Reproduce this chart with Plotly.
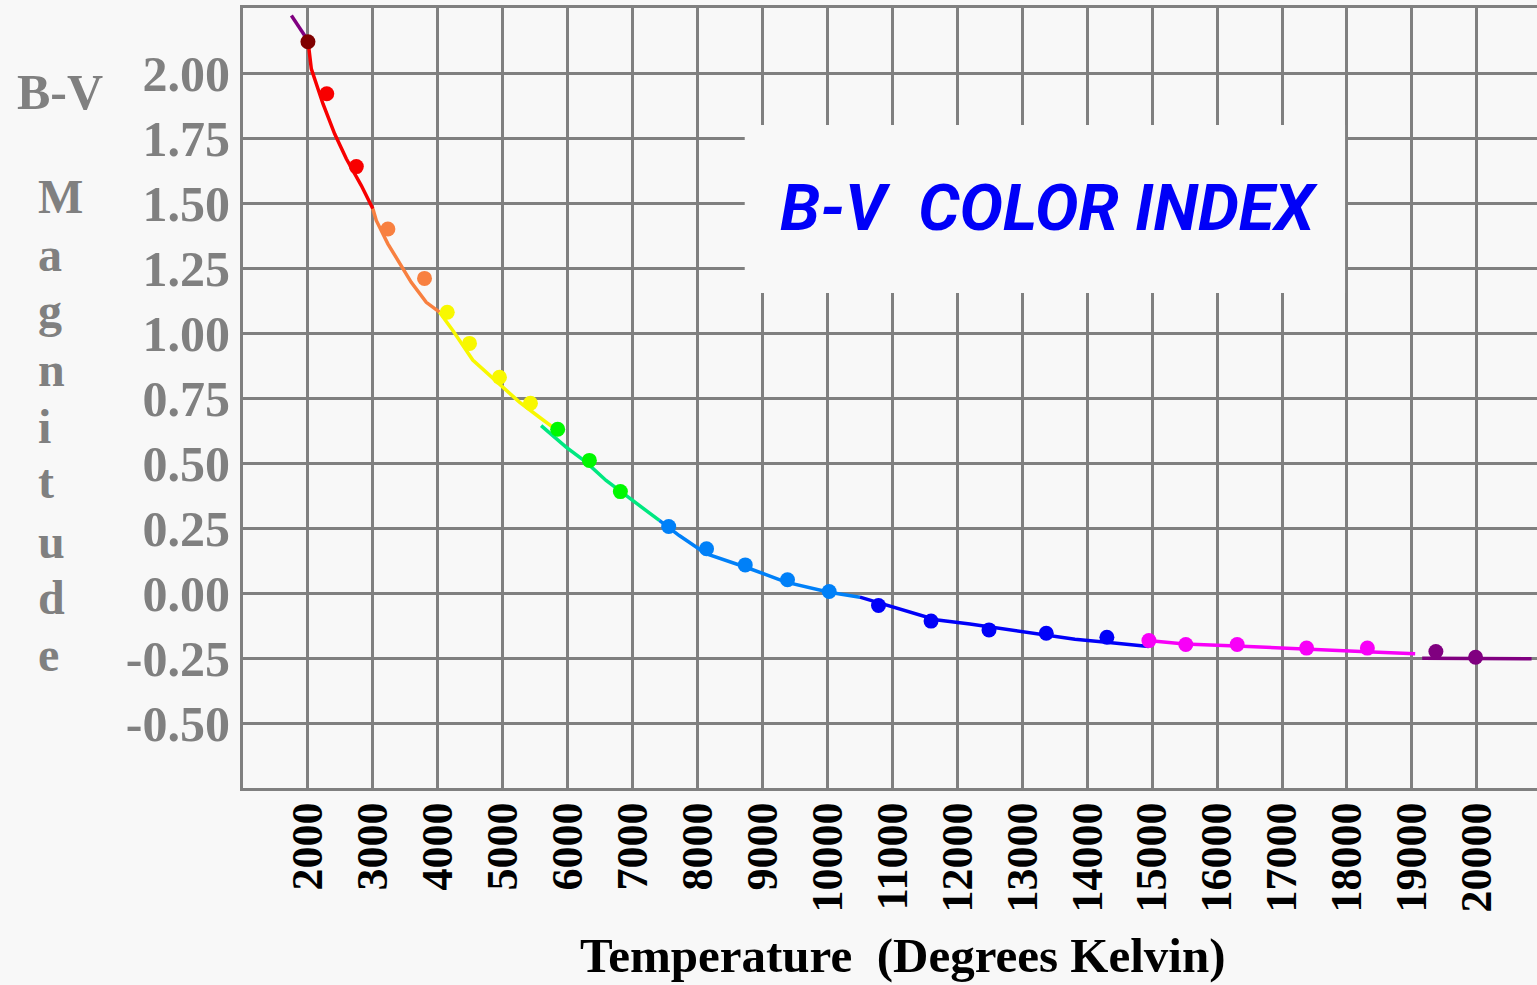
import plotly.graph_objects as go

# tick values / labels
temp_ticks = [2000, 3000, 4000, 5000, 6000, 7000, 8000, 9000, 10000, 11000,
              12000, 13000, 14000, 15000, 16000, 17000, 18000, 19000, 20000]
temp_labels = [str(t) for t in temp_ticks]
bv_ticks = [2.0, 1.75, 1.5, 1.25, 1.0, 0.75, 0.5, 0.25, 0.0, -0.25, -0.5]
bv_labels = ["2.00", "1.75", "1.50", "1.25", "1.00", "0.75", "0.50", "0.25",
             "0.00", "-0.25", "-0.50"]

# measured points (temperature K, B-V)
maroon_T = [2000]
maroon_bv = [2.12]
red_T = [2290, 2745]
red_bv = [1.92, 1.64]
orange_T = [3231, 3795]
orange_bv = [1.40, 1.21]
yellow_T = [4145, 4488, 4949, 5426]
yellow_bv = [1.08, 0.96, 0.83, 0.73]
green_T = [5846, 6334, 6811]
green_bv = [0.63, 0.51, 0.39]
ltblue_T = [7555, 8138, 8734, 9385, 10026]
ltblue_bv = [0.256, 0.170, 0.108, 0.051, 0.006]
blue_T = [10786, 11595, 12488, 13369, 14303]
blue_bv = [-0.048, -0.108, -0.142, -0.155, -0.170]
magenta_T = [14950, 15518, 16309, 17378, 18314]
magenta_bv = [-0.183, -0.198, -0.198, -0.212, -0.212]
purple_T = [19369, 19980]
purple_bv = [-0.225, -0.247]

ln_top_T = [1745, 2000]
ln_top_bv = [2.221, 2.125]
ln_red_T = [2000, 2052, 2231, 2411, 2591, 2822, 3000]
ln_red_bv = [2.125, 2.016, 1.882, 1.766, 1.670, 1.567, 1.478]
ln_orange_T = [3000, 3052, 3231, 3411, 3591, 3822, 4026]
ln_orange_bv = [1.478, 1.433, 1.343, 1.272, 1.195, 1.118, 1.080]
ln_yellow_T = [4026, 4231, 4538, 4795, 5052, 5257, 5565, 5769]
ln_yellow_bv = [1.080, 1.010, 0.896, 0.837, 0.779, 0.734, 0.676, 0.638]
ln_green_T = [5591, 5975, 6283, 6591, 7000, 7308, 7411]
ln_green_bv = [0.644, 0.561, 0.503, 0.433, 0.356, 0.298, 0.279]
ln_ltblue_T = [7411, 7718, 8129, 8745, 9360, 10026, 10500]
ln_ltblue_bv = [0.279, 0.221, 0.151, 0.099, 0.042, 0.003, -0.016]
ln_blue_T = [10500, 11032, 11666, 12194, 12965, 13811, 14374, 14949]
ln_blue_bv = [-0.016, -0.057, -0.103, -0.119, -0.147, -0.178, -0.191, -0.206]
ln_magenta_T = [14934, 15500, 16200, 17250, 18300, 19050]
ln_magenta_bv = [-0.183, -0.196, -0.203, -0.216, -0.226, -0.234]
ln_purple_T = [19158, 20842]
ln_purple_bv = [-0.251, -0.253]

BG = "#f8f8f8"
GRID = "#808080"
SERIF = "Liberation Serif, Times New Roman, serif"

W, H = 1537, 985
L, R, T, B = 243, 0, 8, 197


def px_x(px):
    return (px - L) / (W - L - R)


def px_y(py):
    return 1 - (py - T) / (H - T - B)


fig = go.Figure()

lines = [
    (ln_top_T, ln_top_bv, "#800080"),
    (ln_red_T, ln_red_bv, "#f80000"),
    (ln_orange_T, ln_orange_bv, "#f88040"),
    (ln_yellow_T, ln_yellow_bv, "#f8f800"),
    (ln_green_T, ln_green_bv, "#00e880"),
    (ln_ltblue_T, ln_ltblue_bv, "#0080f8"),
    (ln_blue_T, ln_blue_bv, "#0000f8"),
    (ln_magenta_T, ln_magenta_bv, "#f800f8"),
    (ln_purple_T, ln_purple_bv, "#800080"),
]
for xs, ys, c in lines:
    fig.add_trace(go.Scatter(x=xs, y=ys, mode="lines", line=dict(color=c, width=3.5),
                             hoverinfo="skip", showlegend=False))

points = [
    (maroon_T, maroon_bv, "#800000"),
    (red_T, red_bv, "#f80000"),
    (orange_T, orange_bv, "#f88040"),
    (yellow_T, yellow_bv, "#f8f800"),
    (green_T, green_bv, "#00f800"),
    (ltblue_T, ltblue_bv, "#0080f8"),
    (blue_T, blue_bv, "#0000f8"),
    (magenta_T, magenta_bv, "#f800f8"),
    (purple_T, purple_bv, "#800080"),
]
for xs, ys, c in points:
    fig.add_trace(go.Scatter(x=xs, y=ys, mode="markers",
                             marker=dict(color=c, size=15, symbol="circle", line=dict(width=0)),
                             showlegend=False))

# blank box behind the title (hides the grid there)
fig.add_shape(type="rect", xref="x", yref="y", x0=8726, x1=17970, y0=1.154, y1=1.80,
              fillcolor=BG, line=dict(width=0), layer="between")

fig.add_annotation(x=13407, y=1.481, xref="x", yref="y", showarrow=False,
                   text="B-V\u00a0\u00a0COLOR INDEX",
                   font=dict(family="Roboto, Liberation Sans, sans-serif",
                             size=65, color="#0000f8", weight="bold", style="italic"))

# y axis title: "B-V" then "Magnitude" stacked letter by letter
fig.add_annotation(x=px_x(15), y=px_y(92), xref="paper", yref="paper", showarrow=False,
                   xanchor="left", yanchor="middle", text="B-V",
                   font=dict(family=SERIF, size=50, color=GRID, weight="bold"))
letter_y = [196, 254, 311, 369, 426, 482, 541, 597, 654]
for ch, py in zip("Magnitude", letter_y):
    fig.add_annotation(x=px_x(36), y=px_y(py), xref="paper", yref="paper", showarrow=False,
                       xanchor="left", yanchor="middle", text=ch,
                       font=dict(family=SERIF, size=48, color=GRID, weight="bold"))

# x axis title
fig.add_annotation(x=px_x(902), y=px_y(956), xref="paper", yref="paper", showarrow=False,
                   xanchor="center", yanchor="middle",
                   text="Temperature\u00a0\u00a0(Degrees Kelvin)",
                   font=dict(family=SERIF, size=49, color="black", weight="bold"))

fig.update_xaxes(range=[1000, 20926], tickvals=temp_ticks, ticktext=temp_labels,
                 tickangle=-90, ticks="", ticklabelstandoff=-6,
                 showgrid=True, gridcolor=GRID, gridwidth=3, zeroline=False,
                 showline=True, linecolor=GRID, linewidth=3, mirror=True,
                 tickfont=dict(family=SERIF, size=44, color="black", weight="bold"))
fig.update_yaxes(range=[-0.75, 2.25], tickvals=bv_ticks, ticktext=bv_labels,
                 ticks="", ticklabelstandoff=0,
                 showgrid=True, gridcolor=GRID, gridwidth=3, zeroline=False,
                 showline=True, linecolor=GRID, linewidth=3, mirror=False,
                 tickfont=dict(family=SERIF, size=50, color=GRID, weight="bold"))

fig.update_layout(width=W, height=H, margin=dict(l=L, r=R, t=T, b=B, pad=0),
                  paper_bgcolor=BG, plot_bgcolor=BG, showlegend=False)

# drop the page's default body margin so the figure sits at the top-left corner
fig.write_html("out.html", config={"displayModeBar": False},
               post_script="document.body.style.margin='0px';"
                           "document.body.style.background='#f8f8f8';")
